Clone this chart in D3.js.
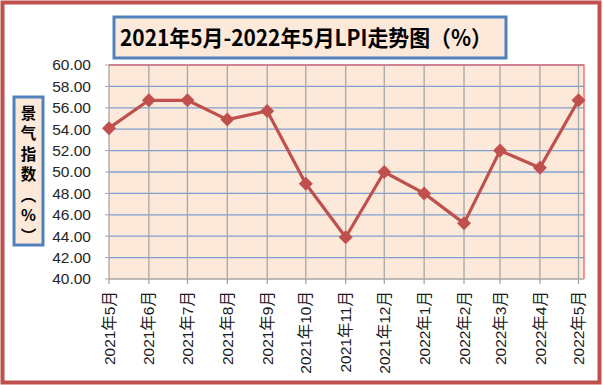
<!DOCTYPE html>
<html><head><meta charset="utf-8">
<script src="https://cdn.jsdelivr.net/npm/d3@7"></script>
<style>body{margin:0;background:#fff}svg{display:block}</style>
</head><body><svg id="c" width="604" height="385"></svg>
<script>
const months = ["2021-05","2021-06","2021-07","2021-08","2021-09","2021-10","2021-11","2021-12","2022-01","2022-02","2022-03","2022-04","2022-05"];
const labels = ["2021年5月","2021年6月","2021年7月","2021年8月","2021年9月","2021年10月","2021年11月","2021年12月","2022年1月","2022年2月","2022年3月","2022年4月","2022年5月"];
const values = [54.1,56.7,56.7,54.9,55.7,48.9,43.9,50.0,48.0,45.2,52.0,50.4,56.7];
const yTicks = [40,42,44,46,48,50,52,54,56,58,60];
const title = "2021年5月-2022年5月LPI走势图（%）";
const yLabel = "景气指数（%）";

const svg = d3.select("#c");
const parse = d3.timeParse("%Y-%m");
const dates = months.map(parse);
const L=109, T=65, B=279, Rplot=584;
const x = d3.scaleTime().domain([dates[0], dates[dates.length-1]]).range([L, 578.5]);
const y = d3.scaleLinear().domain([40,60]).range([B, T]);

// outer border
svg.append("rect").attr("x",2.5).attr("y",2.5).attr("width",597).attr("height",380)
  .attr("fill","#fff").attr("stroke","#c0504d").attr("stroke-width",4);

// plot bg
svg.append("rect").attr("x",L).attr("y",T).attr("width",Rplot-L).attr("height",B-T).attr("fill","#fde9d9");

// horizontal gridlines
svg.append("g").selectAll("line").data(yTicks.slice(1)).join("line")
  .attr("x1",L).attr("x2",Rplot).attr("y1",d=>y(d)).attr("y2",d=>y(d))
  .attr("stroke","#7f9fcf").attr("stroke-width",1.3);
// vertical gridlines
svg.append("g").selectAll("line").data(dates).join("line")
  .attr("x1",d=>x(d)).attr("x2",d=>x(d)).attr("y1",T).attr("y2",B+5)
  .attr("stroke","#a6a6a6").attr("stroke-width",1.3);
// top and right border red
svg.append("path").attr("d",`M${L},${T}H${Rplot}V${B}`).attr("fill","none").attr("stroke","#ff5050").attr("stroke-width",1.2);
// x axis line
svg.append("line").attr("x1",L).attr("x2",Rplot).attr("y1",B).attr("y2",B).attr("stroke","#a6a6a6").attr("stroke-width",1.5);
// y axis ticks
svg.append("g").selectAll("line").data(yTicks).join("line")
  .attr("x1",L-4).attr("x2",L).attr("y1",d=>y(d)).attr("y2",d=>y(d)).attr("stroke","#a6a6a6");

// y tick labels
svg.append("g").selectAll("text").data(yTicks).join("text")
  .attr("x",91).attr("y",d=>y(d)).attr("dy","0.35em").attr("text-anchor","end")
  .attr("font-family","Liberation Sans, Arial, sans-serif").attr("font-size",15.5).attr("fill","#262626")
  .text(d=>d.toFixed(2));

// x labels
svg.append("g").selectAll("text").data(dates).join("text")
  .attr("transform",d=>`translate(${x(d)},${B+12}) rotate(-90)`)
  .attr("text-anchor","end").attr("dy","0.36em")
  .attr("font-family","Liberation Sans, Noto Sans CJK SC, sans-serif").attr("font-size",15.5).attr("fill","#1a1a1a")
  .text((d,i)=>labels[i]);

// line
const line = d3.line().x((d,i)=>x(dates[i])).y(d=>y(d));
svg.append("path").datum(values).attr("d",line).attr("fill","none")
  .attr("stroke","#c0504d").attr("stroke-width",3.2).attr("stroke-linejoin","round");
svg.append("g").selectAll("path").data(values).join("path")
  .attr("d",d3.symbol(d3.symbolSquare, 98)())
  .attr("transform",(d,i)=>`translate(${x(dates[i])},${y(d)}) rotate(45)`)
  .attr("fill","#c0504d");

// title
svg.append("rect").attr("x",114).attr("y",17).attr("width",392).attr("height",41)
  .attr("fill","#fde9d9").attr("stroke","#4f81bd").attr("stroke-width",3);
svg.append("text").attr("x",306).attr("y",38).attr("dy","0.36em").attr("text-anchor","middle")
  .attr("font-family","Noto Sans CJK SC, sans-serif").attr("font-weight","bold").attr("font-size",22).attr("fill","#000")
  .attr("textLength",372).attr("lengthAdjust","spacingAndGlyphs")
  .text(title);

// y label box
svg.append("rect").attr("x",14).attr("y",97).attr("width",29).attr("height",148)
  .attr("fill","#fde9d9").attr("stroke","#4f81bd").attr("stroke-width",3);
svg.append("text").attr("x",28.5).attr("y",105)
  .style("writing-mode","vertical-rl").style("text-orientation","upright")
  .attr("font-family","Noto Sans CJK SC, sans-serif").attr("font-weight","bold").attr("font-size",15.5)
  .attr("letter-spacing",5).attr("fill","#000")
  .text(yLabel);
</script></body></html>
